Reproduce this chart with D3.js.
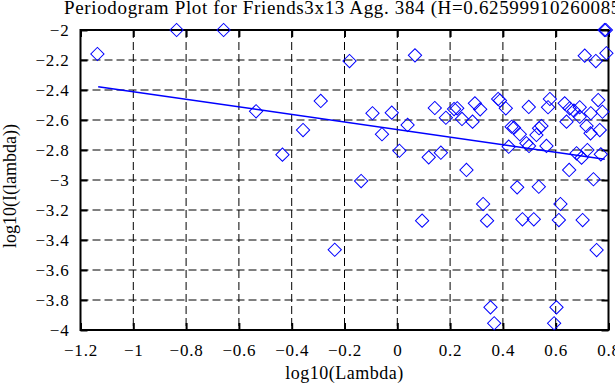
<!DOCTYPE html>
<html lang="en">
<head>
    <meta charset="UTF-8">
    <title>Periodogram</title>
    <script src="https://d3js.org/d3.v7.min.js"></script>
    <style>
        body {
          margin: 0;
          background: white;
        }
        svg text {
          font-family: "Liberation Serif", "DejaVu Serif", serif;
          fill: black;
        }
        .grid line {
          stroke: black;
          stroke-width: 1;
          stroke-dasharray: 8,4;
        }
        .tick line {
          stroke: black;
          stroke-width: 2;
        }
    </style>
</head>
<body>
<script>

    // periodogram points (log10 lambda, log10 I(lambda))
    var ptX = [-1.136, -0.836, -0.658, -0.535, -0.435, -0.357, -0.290, -0.237, -0.181, 0.067,
               -0.094, -0.021, -0.058, 0.039, 0.008, 0.142, 0.119, 0.165, 0.262, -0.137,
               0.094, 0.184, 0.215, 0.227, 0.245, 0.285, 0.294, 0.314, 0.382, 0.389,
               0.411, 0.498, 0.433, 0.442, 0.464, 0.422, 0.489, 0.499, 0.546, 0.537,
               0.527, 0.565, 0.578, 0.571, 0.634, 0.653, 0.669, 0.641, 0.691, 0.691,
               0.717, 0.732, 0.761, 0.777, 0.767, 0.733, 0.710, 0.752, 0.792, 0.785,
               0.790, 0.679, 0.698, 0.720, 0.771, 0.651, 0.743, 0.454, 0.536, 0.325,
               0.618, 0.340, 0.474, 0.517, 0.612, 0.702, 0.755, 0.353, 0.603, 0.367,
               0.594]
    var ptY = [-2.160, -2.000, -2.000, -2.542, -2.831, -2.667, -2.473, -3.465, -2.207, -2.169,
               -2.555, -2.551, -2.695, -2.633, -2.805, -2.520, -2.849, -2.818, -2.933, -3.007,
               -3.271, -2.585, -2.527, -2.522, -2.593, -2.611, -2.489, -2.529, -2.460, -2.470,
               -2.522, -2.513, -2.645, -2.651, -2.695, -2.778, -2.755, -2.773, -2.640, -2.655,
               -2.700, -2.773, -2.460, -2.515, -2.489, -2.522, -2.538, -2.611, -2.515, -2.578,
               -2.640, -2.689, -2.467, -2.545, -2.667, -2.555, -2.171, -2.207, -2.155, -2.000,
               -2.000, -2.822, -2.851, -2.800, -2.829, -2.933, -2.995, -3.049, -3.045, -3.160,
               -3.160, -3.271, -3.262, -3.262, -3.267, -3.267, -3.467, -3.849, -3.849, -3.955,
               -3.955]

    // fitted line end points
    var fitX = [-1.133, 0.786]
    var fitY = [-2.378, -2.862]

    var xTicks = [-1.2, -1, -0.8, -0.6, -0.4, -0.2, 0, 0.2, 0.4, 0.6, 0.8]
    var yTicks = [-4, -3.8, -3.6, -3.4, -3.2, -3, -2.8, -2.6, -2.4, -2.2, -2]

    const width = 615, height = 385
    const margins = {"top": 30, "right": 6.5, "bottom": 55, "left": 80.5}

    var svg = d3.select("body").append("svg")
      .attr("width", width)
      .attr("height", height)
      .style("display", "block")

    const xScale = d3.scaleLinear().domain([-1.2, 0.8]).range([margins.left, width - margins.right])
    const yScale = d3.scaleLinear().domain([-4, -2]).range([height - margins.bottom, margins.top])

    const fmt = d => d3.format("~g")(d).replace("-", "\u2212")

    // dashed grid, interior ticks only
    let grid = svg.append("g").attr("class", "grid")
    grid.selectAll("line.gx").data(xTicks.slice(1, -1)).join("line")
      .attr("class", "gx")
      .attr("x1", d => xScale(d)).attr("x2", d => xScale(d))
      .attr("y1", yScale(-2)).attr("y2", yScale(-4))
    grid.selectAll("line.gy").data(yTicks.slice(1, -1)).join("line")
      .attr("class", "gy")
      .attr("y1", d => yScale(d)).attr("y2", d => yScale(d))
      .attr("x1", xScale(-1.2)).attr("x2", xScale(0.8))

    // axes: inward ticks on all four sides
    let bottomAxis = d3.axisBottom(xScale).tickValues(xTicks).tickFormat(fmt)
      .tickSizeInner(-7).tickSizeOuter(0).tickPadding(14)
    let leftAxis = d3.axisLeft(yScale).tickValues(yTicks).tickFormat(fmt)
      .tickSizeInner(-7).tickSizeOuter(0).tickPadding(11)
    let topAxis = d3.axisTop(xScale).tickValues(xTicks).tickFormat("")
      .tickSizeInner(-7).tickSizeOuter(0)
    let rightAxis = d3.axisRight(yScale).tickValues(yTicks).tickFormat("")
      .tickSizeInner(-7).tickSizeOuter(0)

    svg.append("g").attr("transform", "translate(0," + yScale(-4) + ")").call(bottomAxis)
    svg.append("g").attr("transform", "translate(" + xScale(-1.2) + ",0)").call(leftAxis)
    svg.append("g").attr("transform", "translate(0," + yScale(-2) + ")").call(topAxis)
    svg.append("g").attr("transform", "translate(" + xScale(0.8) + ",0)").call(rightAxis)

    svg.selectAll(".domain").remove()
    svg.selectAll(".tick text")
      .attr("font-size", 17)
      .attr("letter-spacing", 0.8)
      .attr("fill", "black")

    svg.append("rect")
      .attr("x", xScale(-1.2))
      .attr("y", yScale(-2))
      .attr("width", xScale(0.8) - xScale(-1.2))
      .attr("height", yScale(-4) - yScale(-2))
      .attr("fill", "none")
      .attr("stroke", "black")
      .attr("stroke-width", 2)

    // least squares fit
    svg.append("line")
      .attr("x1", xScale(fitX[0])).attr("y1", yScale(fitY[0]))
      .attr("x2", xScale(fitX[1])).attr("y2", yScale(fitY[1]))
      .attr("stroke", "#0000ff")
      .attr("stroke-width", 1.5)

    const diamond = d3.symbol().type(d3.symbolSquare).size(88)
    svg.append("g").selectAll("path").data(ptX).join("path")
      .attr("d", diamond)
      .attr("transform", (d, i) => "translate(" + xScale(d) + "," + yScale(ptY[i]) + ") rotate(45)")
      .attr("fill", "none")
      .attr("stroke", "#0000ff")
      .attr("stroke-width", 1)

    svg.append("text")
      .attr("x", 64)
      .attr("y", 14)
      .attr("font-size", 19)
      .attr("letter-spacing", 0.65)
      .text("Periodogram Plot for Friends3x13 Agg. 384 (H=0.625999102600852)")

    svg.append("text")
      .attr("x", (xScale(-1.2) + xScale(0.8)) / 2)
      .attr("y", 379)
      .attr("text-anchor", "middle")
      .attr("font-size", 18)
      .attr("letter-spacing", 0.5)
      .text("log10(Lambda)")

    svg.append("text")
      .attr("transform", "translate(16," + 186 + ") rotate(-90)")
      .attr("text-anchor", "middle")
      .attr("font-size", 18)
      .text("log10(I(lambda))")

</script>
</body>
</html>
